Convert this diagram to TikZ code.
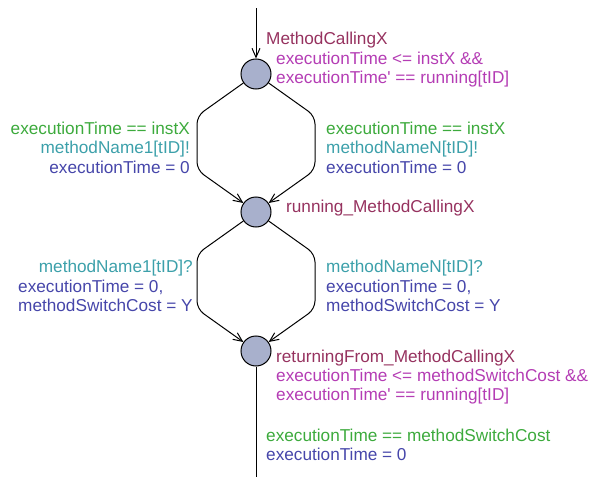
\documentclass[tikz,border=0pt]{standalone}
\usepackage{fontspec}
\setmainfont{Liberation Sans}
\usetikzlibrary{arrows.meta}

\definecolor{locname}{RGB}{150,50,95}
\definecolor{invcol}{RGB}{180,60,180}
\definecolor{guardcol}{RGB}{60,170,60}
\definecolor{synccol}{RGB}{60,160,170}
\definecolor{updcol}{RGB}{70,70,170}
\definecolor{statefill}{RGB}{168,176,204}

\tikzset{
  state/.style={circle,draw,line width=1pt,fill=statefill,minimum size=30pt,inner sep=0pt},
  lbl/.style={anchor=base west,inner sep=0pt,font=\fontsize{17.2}{19}\selectfont},
  lblr/.style={lbl,anchor=base east},
  trans/.style={draw,line width=1pt,rounded corners=8pt},
  tip/.style={-{Straight Barb[length=9pt,width=8pt]}}
}

\begin{document}
\begin{tikzpicture}[x=1pt,y=-1pt]
		\useasboundingbox (0,0) rectangle (590,479);
		% locations
		\node[state] (calling) at (256,74) {};
		\node[state] (running) at (256,212) {};
		\node[state] (returning) at (256,351) {};
		\coordinate (init) at (256,8);
		\coordinate (exit) at (256,477);
		% transitions
		\draw[trans,tip] (init) -- (calling);
		\draw[trans,tip] (calling) -- (197,116) -- (197,170) -- (running);
		\draw[trans,tip] (calling) -- (315,116) -- (315,170) -- (running);
		\draw[trans,tip] (running) -- (197,254) -- (197,309) -- (returning);
		\draw[trans,tip] (running) -- (315,254) -- (315,309) -- (returning);
		\draw[trans] (returning) -- (exit);
		% location labels
		\node[lbl,locname] (callingname) at (266,45) {MethodCallingX};
		\node[lbl,invcol] (callinginv1) at (276,64) {executionTime <= instX \&\&};
		\node[lbl,invcol] (callinginv2) at (276,83) {executionTime\textquotesingle{} == running[tID]};
		\node[lbl,locname] (runningname) at (286,212) {running\_MethodCallingX};
		\node[lbl,locname] (returningname) at (276,362) {returningFrom\_MethodCallingX};
		\node[lbl,invcol] (returninginv1) at (276,381) {executionTime <= methodSwitchCost \&\&};
		\node[lbl,invcol] (returninginv2) at (276,400) {executionTime\textquotesingle{} == running[tID]};
		% calling -> running
		\node[lblr,guardcol] (guardA) at (190,134) {executionTime == instX};
		\node[lblr,synccol] (syncA) at (190,153.5) {methodName1[tID]!};
		\node[lblr,updcol] (updA) at (190,173) {executionTime = 0};
		\node[lbl,guardcol] (guardB) at (326,134) {executionTime == instX};
		\node[lbl,synccol] (syncB) at (326,153.5) {methodNameN[tID]!};
		\node[lbl,updcol] (updB) at (326,173) {executionTime = 0};
		% running -> returning
		\node[lblr,synccol] (syncC) at (193,272) {methodName1[tID]?};
		\node[lbl,updcol] (updC1) at (18,292) {executionTime = 0,};
		\node[lbl,updcol] (updC2) at (18,311) {methodSwitchCost = Y};
		\node[lbl,synccol] (syncD) at (326,272) {methodNameN[tID]?};
		\node[lbl,updcol] (updD1) at (326,292) {executionTime = 0,};
		\node[lbl,updcol] (updD2) at (326,311) {methodSwitchCost = Y};
		% returning -> out
		\node[lbl,guardcol] (guardE) at (266,441) {executionTime == methodSwitchCost};
		\node[lbl,updcol] (updE) at (266,460) {executionTime = 0};
\end{tikzpicture}
\end{document}
